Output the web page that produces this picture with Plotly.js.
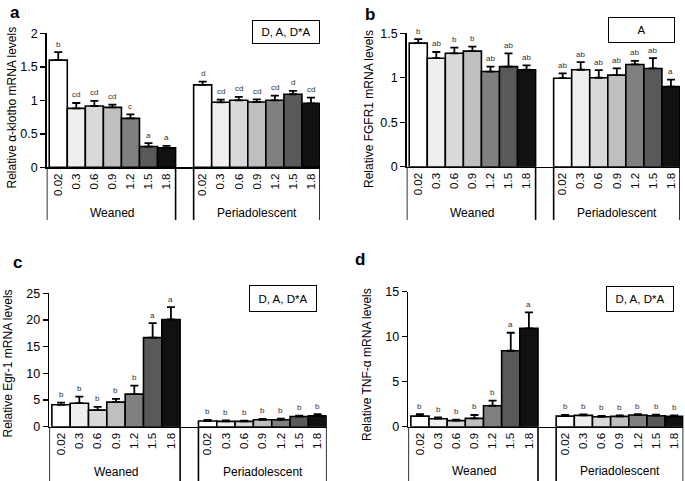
<!DOCTYPE html>
<html><head><meta charset="utf-8">
<script src="https://cdn.plot.ly/plotly-3.0.1.min.js"></script>
<style>html,body{margin:0;padding:0;background:#fff}#chart{width:685px;height:481px}</style>
</head><body><div id="chart"></div>
<script>
const doses = ['0.02','0.3','0.6','0.9','1.2','1.5','1.8'];
const ages = ['Weaned','Periadolescent'];
const shades = ['#ffffff','#efefef','#d9d9d9','#bfbfbf','#808080','#595959','#111111'];

// panel a: alpha-klotho
const klothoWeaned = [1.60,0.88,0.915,0.895,0.73,0.31,0.29];
const klothoWeanedErr = [0.12,0.08,0.075,0.04,0.06,0.05,0.03];
const klothoPeri = [1.23,0.97,1.0,0.975,1.0,1.09,0.955];
const klothoPeriErr = [0.05,0.04,0.05,0.04,0.07,0.05,0.085];
const klothoWeanedSig = ['b','cd','cd','cd','c','a','a'];
const klothoPeriSig = ['d','cd','cd','cd','cd','d','cd'];

// panel b: FGFR1
const fgfr1Weaned = [1.39,1.22,1.275,1.30,1.07,1.125,1.09];
const fgfr1WeanedErr = [0.045,0.07,0.065,0.05,0.055,0.15,0.05];
const fgfr1Peri = [0.995,1.09,1.0,1.03,1.15,1.105,0.90];
const fgfr1PeriErr = [0.055,0.085,0.085,0.075,0.04,0.115,0.08];
const fgfr1WeanedSig = ['b','ab','b','b','ab','ab','ab'];
const fgfr1PeriSig = ['ab','ab','ab','ab','ab','ab','a'];

// panel c: Egr-1
const egr1Weaned = [4.1,4.4,3.1,4.6,6.1,16.7,20.1];
const egr1WeanedErr = [0.4,1.25,0.6,0.6,1.6,2.7,2.3];
const egr1Peri = [1.06,1.0,1.0,1.3,1.3,1.9,2.05];
const egr1PeriErr = [0.2,0.2,0.15,0.15,0.2,0.15,0.3];
const egr1WeanedSig = ['b','b','b','b','b','a','a'];
const egr1PeriSig = ['b','b','b','b','b','b','b'];

// panel d: TNF-alpha
const tnfWeaned = [1.18,0.89,0.67,0.93,2.33,8.44,10.93];
const tnfWeanedErr = [0.22,0.15,0.11,0.37,0.57,2.0,1.77];
const tnfPeri = [1.18,1.26,1.1,1.15,1.3,1.22,1.15];
const tnfPeriErr = [0.12,0.11,0.09,0.11,0.1,0.11,0.11];
const tnfWeanedSig = ['b','b','b','b','b','a','a'];
const tnfPeriSig = ['b','b','b','b','b','b','b'];

const W = 685, H = 481;
const px = v => v / W, py = v => 1 - v / H;
const FONT = 'Arial, "Liberation Sans", sans-serif';

const panels = [
  {tag:'a', title:'Relative α-klotho mRNA levels', box:'D, A, D*A', range:[0,2], dtick:0.5,
   w:klothoWeaned, we:klothoWeanedErr, p:klothoPeri, pe:klothoPeriErr, ws:klothoWeanedSig, ps:klothoPeriSig,
   xd:[46.7,320], yd:[33.3,167.3], lineEnd:220, groupY:213, tagXY:[15,13], titleXY:[11,107.5], boxXY:[285.8,32.5], boxW:64, boxH:20},
  {tag:'b', title:'Relative FGFR1 mRNA levels', box:'A', range:[0,1.5], dtick:0.5,
   w:fgfr1Weaned, we:fgfr1WeanedErr, p:fgfr1Peri, pe:fgfr1PeriErr, ws:fgfr1WeanedSig, ps:fgfr1PeriSig,
   xd:[406.7,680], yd:[33.3,166.7], lineEnd:220, groupY:213, tagXY:[370,14], titleXY:[369,109], boxXY:[641.7,30.5], boxW:63, boxH:22},
  {tag:'c', title:'Relative Egr-1 mRNA levels', box:'D, A, D*A', range:[0,25], dtick:5,
   w:egr1Weaned, we:egr1WeanedErr, p:egr1Peri, pe:egr1PeriErr, ws:egr1WeanedSig, ps:egr1PeriSig,
   xd:[49.3,326.7], yd:[293.3,426.7], lineEnd:481, groupY:471.5, tagXY:[17.5,262.5], titleXY:[7,363.5], boxXY:[282.5,298.8], boxW:64, boxH:23},
  {tag:'d', title:'Relative TNF-α mRNA levels', box:'D, A, D*A', range:[0,15], dtick:5,
   w:tnfWeaned, we:tnfWeanedErr, p:tnfPeri, pe:tnfPeriErr, ws:tnfWeanedSig, ps:tnfPeriSig,
   xd:[408.3,683.3], yd:[291.7,426.7], lineEnd:481, groupY:470.5, tagXY:[360,259], titleXY:[367,365], boxXY:[639.5,299.2], boxW:64, boxH:22}
];

const xr = [-0.64, 14.5];
const data = [], annotations = [], shapes = [];
const layout = {width:W, height:H, margin:{l:0,r:0,t:0,b:0}, showlegend:false,
  paper_bgcolor:'#fff', plot_bgcolor:'rgba(0,0,0,0)', bargap:0, font:{family:FONT, color:'#000'},
  annotations, shapes};

panels.forEach((P, k) => {
  const n = k + 1;
  const xa = 'x' + (n === 1 ? '' : n), ya = 'y' + (n === 1 ? '' : n);
  const xPos = doses.map((_, i) => i).concat(doses.map((_, i) => i + 8));
  const vals = P.w.concat(P.p);
  const errs = P.we.concat(P.pe);
  const sig = P.ws.concat(P.ps);
  data.push({type:'bar', x:xPos, y:vals, xaxis:xa, yaxis:ya,
    marker:{color:shades.concat(shades), line:{color:'#000', width:1.6}},
    error_y:{type:'data', symmetric:false, array:errs, arrayminus:errs.map(() => 0),
      color:'#000', thickness:1.8, width:4},
    hoverinfo:'skip'});
  layout['xaxis' + (n === 1 ? '' : n)] = {domain:[px(P.xd[0]), px(P.xd[1])], anchor:ya, range:xr,
    showline:true, linecolor:'#000', linewidth:1.6, ticks:'', showgrid:false, zeroline:false,
    tickmode:'array', tickvals:xPos, ticktext:doses.concat(doses), tickangle:-90,
    tickfont:{size:11.5, family:FONT, color:'#000'}, fixedrange:true};
  layout['yaxis' + (n === 1 ? '' : n)] = {domain:[py(P.yd[1]), py(P.yd[0])], anchor:xa, range:P.range,
    dtick:P.dtick, tick0:0, showline:true, linecolor:'#000', linewidth:1.6, ticks:'outside', ticklen:5,
    tickwidth:1.4, tickcolor:'#000', showgrid:false, zeroline:false,
    tickfont:{size:12.5, family:FONT, color:'#000'}, fixedrange:true};
  // significance letters
  xPos.forEach((x, i) => annotations.push({xref:xa, yref:ya, x:x, y:vals[i] + errs[i], text:sig[i],
    showarrow:false, yanchor:'bottom', yshift:1.5, textangle:0.01, font:{size:8, family:FONT, color:'#333'}}));
  // group labels
  annotations.push({xref:xa, yref:'paper', x:3, y:py(P.groupY), text:ages[0], showarrow:false,
    yanchor:'middle', font:{size:12, family:FONT, color:'#000'}});
  annotations.push({xref:xa, yref:'paper', x:11, y:py(P.groupY), text:ages[1], showarrow:false,
    yanchor:'middle', font:{size:12, family:FONT, color:'#000'}});
  // group divider lines
  [xr[0], 6.5, 7.5, 14.5].forEach(xv => shapes.push({type:'line', xref:xa, yref:'paper',
    x0:xv, x1:xv, y0:py(P.yd[1]), y1:py(P.lineEnd), line:{color:'#000', width:1.6}}));
  // panel tag
  annotations.push({xref:'paper', yref:'paper', x:px(P.tagXY[0]), y:py(P.tagXY[1]), text:'<b>' + P.tag + '</b>',
    showarrow:false, xanchor:'center', yanchor:'middle', font:{size:17, family:FONT, color:'#000'}});
  // y title
  annotations.push({xref:'paper', yref:'paper', x:px(P.titleXY[0]), y:py(P.titleXY[1]), text:P.title,
    textangle:-90, showarrow:false, xanchor:'center', yanchor:'middle', font:{size:12, family:FONT, color:'#000'}});
  // stats box
  annotations.push({xref:'paper', yref:'paper', x:px(P.boxXY[0]), y:py(P.boxXY[1]), text:P.box,
    showarrow:false, xanchor:'center', yanchor:'middle', width:P.boxW, height:P.boxH, borderpad:1,
    bordercolor:'#000', borderwidth:1, bgcolor:'#fff', font:{size:11.5, family:FONT, color:'#000'}});
});

Plotly.newPlot('chart', data, layout, {staticPlot:true, displayModeBar:false});
</script></body></html>
